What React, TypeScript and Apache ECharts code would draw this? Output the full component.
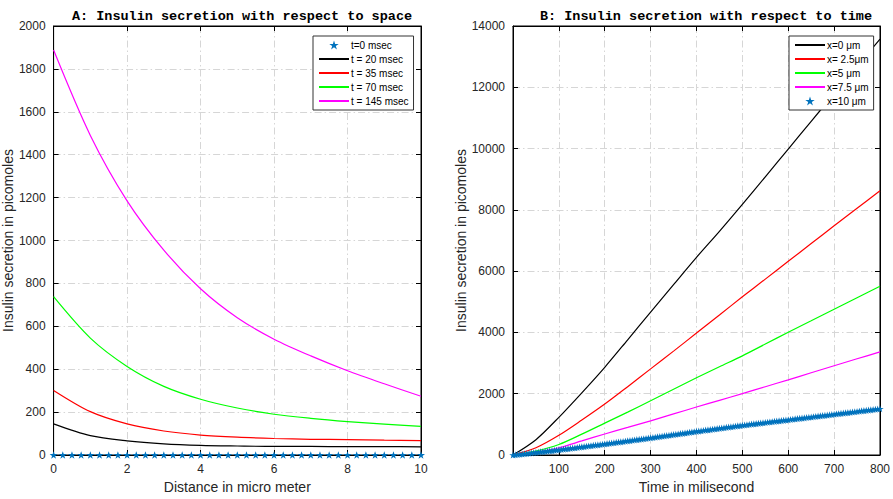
import React, { useEffect, useRef } from "react";
import * as echarts from "echarts";

// ---------- Panel A data (distance in micro meter) ----------
const distance = [0, 1, 2, 3, 4, 5, 6, 7, 8, 9, 10];
const t20 = [145, 90, 66, 52, 45, 42, 40, 40, 39, 39, 38];
const t35 = [301, 202, 145, 112, 93, 83, 77, 73, 72, 69, 67];
const t70 = [738, 545, 413, 320, 260, 219, 190, 171, 156, 144, 133];
const t145 = [1888, 1490, 1185, 955, 775, 640, 540, 462, 393, 332, 274];
const starDistance = [
  0, 0.25, 0.5, 0.75, 1, 1.25, 1.5, 1.75, 2, 2.25, 2.5, 2.75, 3, 3.25, 3.5, 3.75, 4, 4.25, 4.5, 4.75,
  5, 5.25, 5.5, 5.75, 6, 6.25, 6.5, 6.75, 7, 7.25, 7.5, 7.75, 8, 8.25, 8.5, 8.75, 9, 9.25, 9.5, 9.75, 10,
];
const t0 = [
  0, 0, 0, 0, 0, 0, 0, 0, 0, 0, 0, 0, 0, 0, 0, 0, 0, 0, 0, 0,
  0, 0, 0, 0, 0, 0, 0, 0, 0, 0, 0, 0, 0, 0, 0, 0, 0, 0, 0, 0, 0,
];

// ---------- Panel B data (time in milisecond) ----------
const time = [0, 50, 100, 150, 200, 250, 300, 350, 400, 450, 500, 550, 600, 650, 700, 750, 800];
const x0 = [0, 500, 1230, 2030, 2863, 3760, 4665, 5560, 6450, 7300, 8180, 9080, 9980, 10890, 11790, 12680, 13572];
const x25 = [0, 236, 643, 1140, 1662, 2230, 2810, 3390, 3979, 4570, 5163, 5740, 6320, 6900, 7480, 8050, 8623];
const x5 = [0, 130, 343, 680, 1040, 1400, 1770, 2145, 2520, 2880, 3235, 3620, 4006, 4380, 4756, 5130, 5506];
const x75 = [0, 90, 236, 460, 686, 900, 1115, 1340, 1566, 1785, 2003, 2228, 2453, 2683, 2914, 3140, 3364];
const starTime = [
  0, 5, 10, 15, 20, 25, 30, 35, 40, 45, 50, 55, 60, 65, 70, 75, 80, 85, 90, 95,
  100, 105, 110, 115, 120, 125, 130, 135, 140, 145, 150, 155, 160, 165, 170, 175, 180, 185, 190, 195,
  200, 205, 210, 215, 220, 225, 230, 235, 240, 245, 250, 255, 260, 265, 270, 275, 280, 285, 290, 295,
  300, 305, 310, 315, 320, 325, 330, 335, 340, 345, 350, 355, 360, 365, 370, 375, 380, 385, 390, 395,
  400, 405, 410, 415, 420, 425, 430, 435, 440, 445, 450, 455, 460, 465, 470, 475, 480, 485, 490, 495,
  500, 505, 510, 515, 520, 525, 530, 535, 540, 545, 550, 555, 560, 565, 570, 575, 580, 585, 590, 595,
  600, 605, 610, 615, 620, 625, 630, 635, 640, 645, 650, 655, 660, 665, 670, 675, 680, 685, 690, 695,
  700, 705, 710, 715, 720, 725, 730, 735, 740, 745, 750, 755, 760, 765, 770, 775, 780, 785, 790, 795, 800,
];
const x10 = [
  0, 8, 15, 24, 32, 40, 49, 57, 66, 75, 83, 91, 100, 108, 117, 126, 134, 143, 152, 161,
  170, 180, 189, 198, 208, 218, 227, 236, 246, 256, 265, 274, 284, 294, 303, 312, 322, 332, 341, 350,
  360, 370, 380, 390, 400, 410, 420, 430, 440, 450, 460, 470, 480, 490, 500, 510, 520, 530, 540, 550,
  560, 571, 581, 592, 602, 613, 623, 634, 644, 655, 665, 676, 686, 697, 707, 718, 728, 739, 749, 760,
  770, 780, 790, 800, 810, 820, 830, 840, 850, 860, 870, 880, 890, 900, 910, 920, 930, 940, 950, 960,
  970, 979, 988, 997, 1006, 1015, 1024, 1033, 1042, 1051, 1060, 1069, 1078, 1087, 1096, 1105, 1114, 1123, 1132, 1141,
  1150, 1159, 1168, 1177, 1186, 1195, 1204, 1213, 1222, 1231, 1240, 1249, 1258, 1267, 1276, 1285, 1294, 1303, 1312, 1321,
  1330, 1339, 1348, 1357, 1366, 1375, 1384, 1393, 1402, 1411, 1420, 1429, 1438, 1447, 1456, 1465, 1474, 1483, 1492, 1501, 1510,
];

const zip = (xs: number[], ys: number[]) => xs.map((x, i) => [x, ys[i]]);

const STAR =
  "path://M50,0 L61.2,34.5 L97.6,34.5 L68.2,55.9 L79.4,90.5 L50,69.1 L20.6,90.5 L31.8,55.9 L2.4,34.5 L38.8,34.5 Z";
const LINE_ICON = "path://M0,0 L30,0 L30,2 L0,2 Z";
const BLUE = "#0072BD";
const TXT = "#262626";
const FONT = "'Liberation Sans', Arial, Helvetica, sans-serif";
const MONO = "'Liberation Mono', 'Courier New', Courier, monospace";

const gridLine = { show: true, lineStyle: { color: "#d6d6d6", width: 1, type: [7, 3, 1.5, 3] } };
const plain = (v: number) => String(v);

function mainX(gridIndex: number, min: number, max: number, interval: number, name: string, hideMin: boolean) {
  return {
    type: "value",
    gridIndex,
    min,
    max,
    interval,
    name,
    nameLocation: "middle",
    nameGap: 25,
    nameTextStyle: { fontFamily: FONT, fontSize: 14, color: TXT },
    axisLine: { show: true, onZero: false, lineStyle: { color: "#000", width: 1 } },
    axisTick: { show: true, inside: true, length: 5, lineStyle: { color: "#000" } },
    axisLabel: { fontFamily: FONT, fontSize: 12, color: TXT, margin: 8, showMinLabel: !hideMin, formatter: plain },
    splitLine: gridLine,
  };
}
function topX(gridIndex: number, min: number, max: number, interval: number) {
  return {
    type: "value",
    gridIndex,
    min,
    max,
    interval,
    position: "top",
    axisLine: { show: true, onZero: false, lineStyle: { color: "#000", width: 1 } },
    axisTick: { show: true, inside: true, length: 5, lineStyle: { color: "#000" } },
    axisLabel: { show: false },
    splitLine: { show: false },
  };
}
function mainY(gridIndex: number, min: number, max: number, interval: number, name: string, gap: number) {
  return {
    type: "value",
    gridIndex,
    min,
    max,
    interval,
    name,
    nameLocation: "middle",
    nameGap: gap,
    nameTextStyle: { fontFamily: FONT, fontSize: 14, color: TXT },
    axisLine: { show: true, onZero: false, lineStyle: { color: "#000", width: 1 } },
    axisTick: { show: true, inside: true, length: 5, lineStyle: { color: "#000" } },
    axisLabel: { fontFamily: FONT, fontSize: 12, color: TXT, margin: 8, formatter: plain },
    splitLine: gridLine,
  };
}
function rightY(gridIndex: number, min: number, max: number, interval: number) {
  return {
    type: "value",
    gridIndex,
    min,
    max,
    interval,
    position: "right",
    axisLine: { show: true, onZero: false, lineStyle: { color: "#000", width: 1 } },
    axisTick: { show: true, inside: true, length: 5, lineStyle: { color: "#000" } },
    axisLabel: { show: false },
    splitLine: { show: false },
  };
}

function lineSeries(name: string, color: string, xi: number, yi: number, data: number[][]) {
  return {
    name,
    type: "line",
    xAxisIndex: xi,
    yAxisIndex: yi,
    data,
    smooth: 0.3,
    showSymbol: false,
    symbol: "none",
    lineStyle: { color, width: 1.2 },
    itemStyle: { color },
    z: 3,
  };
}
function starSeries(name: string, xi: number, yi: number, data: number[][], size: number) {
  return {
    name,
    type: "scatter",
    xAxisIndex: xi,
    yAxisIndex: yi,
    data,
    symbol: STAR,
    symbolSize: size,
    symbolKeepAspect: true,
    itemStyle: { color: BLUE, opacity: 1 },
    clip: false,
    z: 4,
  };
}

export default function App() {
  const ref = useRef<HTMLDivElement>(null);
  useEffect(() => {
    document.body.style.margin = "0";
    if (!ref.current) return;
    const chart = echarts.init(ref.current, null, { renderer: "svg" });
    const legendCommon = {
      orient: "vertical",
      top: 36,
      itemWidth: 30,
      itemHeight: 9,
      itemGap: 4,
      padding: [4, 5, 4, 6],
      backgroundColor: "#fff",
      borderColor: "#333",
      borderWidth: 1,
      borderRadius: 0,
      symbolKeepAspect: true,
      textStyle: { fontFamily: FONT, fontSize: 10, color: "#000", padding: [0, 0, 0, -3] },
      selectedMode: false,
      z: 10,
    };
    const lineItem = (name: string) => ({ name, icon: LINE_ICON });
    chart.setOption({
      animation: false,
      backgroundColor: "#fff",
      textStyle: { fontFamily: FONT },
      grid: [
        { left: 53, top: 26, width: 368, height: 436, show: true, borderColor: "#000", borderWidth: 1, backgroundColor: "#fff" },
        { left: 513, top: 26, width: 368, height: 436, show: true, borderColor: "#000", borderWidth: 1, backgroundColor: "#fff" },
      ],
      xAxis: [
        mainX(0, 0, 10, 2, "Distance in micro meter", false),
        topX(0, 0, 10, 2),
        mainX(1, 0, 800, 100, "Time in milisecond", true),
        topX(1, 0, 800, 100),
      ],
      yAxis: [
        mainY(0, 0, 2000, 200, "Insulin secretion in picomoles", 32),
        rightY(0, 0, 2000, 200),
        mainY(1, 0, 14000, 2000, "Insulin secretion in picomoles", 36),
        rightY(1, 0, 14000, 2000),
      ],
      legend: [
        {
          ...legendCommon,
          left: 313,
          data: [
            { name: "t=0 msec" },
            lineItem("t = 20 msec"),
            lineItem("t = 35 msec"),
            lineItem("t = 70 msec"),
            lineItem("t = 145 msec"),
          ],
        },
        {
          ...legendCommon,
          left: 789,
          data: [
            lineItem("x=0 μm"),
            lineItem("x= 2.5μm"),
            lineItem("x=5 μm"),
            lineItem("x=7.5 μm"),
            { name: "x=10 μm" },
          ],
        },
      ],
      series: [
        starSeries("t=0 msec", 0, 0, zip(starDistance, t0), 8),
        lineSeries("t = 20 msec", "#000000", 0, 0, zip(distance, t20)),
        lineSeries("t = 35 msec", "#ff0000", 0, 0, zip(distance, t35)),
        lineSeries("t = 70 msec", "#00ff00", 0, 0, zip(distance, t70)),
        lineSeries("t = 145 msec", "#ff00ff", 0, 0, zip(distance, t145)),
        lineSeries("x=0 μm", "#000000", 2, 2, zip(time, x0)),
        lineSeries("x= 2.5μm", "#ff0000", 2, 2, zip(time, x25)),
        lineSeries("x=5 μm", "#00ff00", 2, 2, zip(time, x5)),
        lineSeries("x=7.5 μm", "#ff00ff", 2, 2, zip(time, x75)),
        starSeries("x=10 μm", 2, 2, zip(starTime, x10), 7.5),
      ],
      graphic: [
        {
          type: "text",
          x: 242,
          y: 16,
          style: {
            text: "A: Insulin secretion with respect to space",
            fontFamily: MONO,
            fontWeight: "bold",
            fontSize: 13.5,
            fill: "#000",
            textAlign: "center",
            textVerticalAlign: "middle",
          },
        },
        {
          type: "text",
          x: 706,
          y: 16,
          style: {
            text: "B: Insulin secretion with respect to time",
            fontFamily: MONO,
            fontWeight: "bold",
            fontSize: 13.5,
            fill: "#000",
            textAlign: "center",
            textVerticalAlign: "middle",
          },
        },
      ],
    });
    return () => chart.dispose();
  }, []);
  return <div ref={ref} style={{ width: 893, height: 499 }} />;
}
